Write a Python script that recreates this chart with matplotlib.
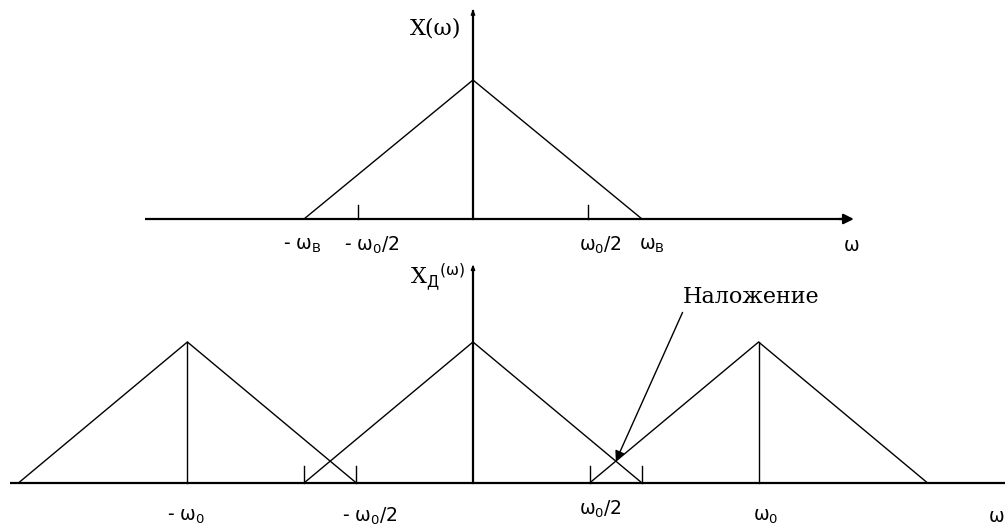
import numpy as np
import matplotlib
matplotlib.use("Agg")
import matplotlib.pyplot as plt
from matplotlib.patches import FancyArrowPatch

plt.rcParams['mathtext.fontset'] = 'custom'
plt.rcParams['mathtext.rm'] = 'DejaVu Sans'
plt.rcParams['mathtext.it'] = 'DejaVu Sans'

# ---- spectrum parameters (in units of the band edge ω_в) ----
band_edge = 1.0                       # ω_в
peak = 1.0                            # spectrum height at ω = 0
top_half_ticks = [-0.68, 0.68]        # ±ω0/2 marks on the original spectrum
copy_centers = [-1.69, 0.0, 1.69]     # -ω0, 0, ω0 in the sampled spectrum
bottom_ticks = [-1.0, -0.69, 0.69, 1.0]
overlap_point = (0.845, 0.155)        # crossing of neighbouring copies

top_labels = ["- ω$_\\mathrm{В}$", "- ω$_0$/2", "ω$_0$/2", "ω$_\\mathrm{В}$", "ω"]
top_label_x = [-1.01, -0.60, 0.75, 1.06, 2.24]
bottom_labels = ["- ω$_0$", "- ω$_0$/2", "ω$_0$/2", "ω$_0$", "ω"]
bottom_label_x = [-1.70, -0.61, 0.75, 1.73, 3.10]
bottom_label_y = [-0.235, -0.235, -0.19, -0.235, -0.235]

W, H = 1005, 527
fig = plt.figure(figsize=(W / 100, H / 100), dpi=100)
xl = (-473 / 169, (W - 473) / 169)

ax1 = fig.add_axes([0, 0, 1, 1])
ax1.set_xlim(*xl)
ax1.set_ylim(-(H - 219) / 139, 219 / 139)
ax2 = fig.add_axes([0, 0, 1, 1])
ax2.set_xlim(*xl)
ax2.set_ylim(-(H - 483) / 141, 483 / 141)
for ax in (ax1, ax2):
    ax.axis('off')
    ax.patch.set_alpha(0)

k = 'black'
thin = 1.0
thick = 1.6
sans = ['DejaVu Sans']
serif = ['DejaVu Serif']

# ---- top: original spectrum X(ω) ----
ax1.plot([-1.94, 2.20], [0, 0], color=k, lw=thick, solid_capstyle='butt')
ax1.annotate('', xy=(2.27, 0), xytext=(2.15, 0),
             arrowprops=dict(arrowstyle='-|>,head_length=0.6,head_width=0.3',
                             color=k, lw=thick))
ax1.plot([0, 0], [0, 1.50], color=k, lw=thick)
ax1.annotate('', xy=(0, 1.53), xytext=(0, 1.45),
             arrowprops=dict(arrowstyle='-|>,head_length=0.3,head_width=0.12',
                             color=k, lw=1))
ax1.plot([-band_edge, 0, band_edge], [0, peak, 0], color=k, lw=thin)
for t in top_half_ticks:
    ax1.plot([t, t], [0, 0.10], color=k, lw=thin)
for s, x in zip(top_labels, top_label_x):
    ax1.text(x, -0.19, s, ha='center', va='center', fontsize=13.5, family=sans)
ax1.text(-0.22, 1.37, "X(ω)", ha='center', va='center', fontsize=16, family=serif)

# ---- bottom: sampled spectrum X_д(ω) ----
ax2.plot([-2.74, 3.2], [0, 0], color=k, lw=thick, solid_capstyle='butt')
ax2.plot([0, 0], [0, 1.52], color=k, lw=thick)
ax2.annotate('', xy=(0, 1.57), xytext=(0, 1.49),
             arrowprops=dict(arrowstyle='-|>,head_length=0.3,head_width=0.12',
                             color=k, lw=1))
for c in copy_centers:
    ax2.plot([c - band_edge, c, c + band_edge], [0, peak, 0], color=k, lw=thin)
    if c != 0:
        ax2.plot([c, c], [0, peak], color=k, lw=thin)
for t in bottom_ticks:
    ax2.plot([t, t], [0, 0.12], color=k, lw=thin)
for s, x, y in zip(bottom_labels, bottom_label_x, bottom_label_y):
    ax2.text(x, y, s, ha='center', va='center', fontsize=13.5, family=sans)
ax2.text(-0.21, 1.46, "X$_\\mathrm{Д}$$^{(\\mathrm{ω})}$", ha='center', va='center',
         fontsize=16, family=serif)

ax2.text(1.24, 1.32, "Наложение", ha='left', va='center', fontsize=16, family=serif)
ax2.add_patch(FancyArrowPatch((1.24, 1.21), overlap_point,
                              arrowstyle='-|>,head_length=6,head_width=3',
                              color=k, lw=1.0, shrinkA=0, shrinkB=0))

fig.savefig('out.png', dpi=100)
